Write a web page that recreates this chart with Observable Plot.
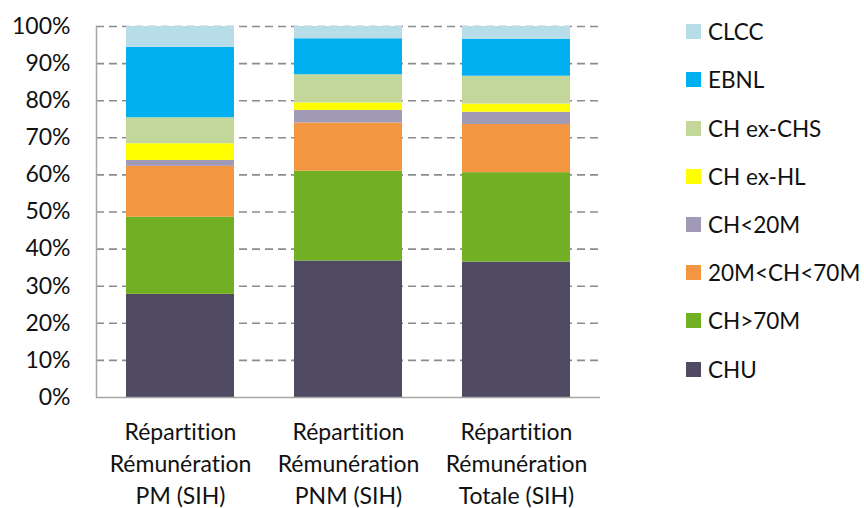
<!DOCTYPE html>
<html>
<head>
<meta charset="utf-8">
<script src="https://cdn.jsdelivr.net/npm/d3@7"></script>
<script src="https://cdn.jsdelivr.net/npm/@observablehq/plot@0.6"></script>
<style>
  html, body { margin: 0; padding: 0; background: #fff; }
  #wrap { position: relative; width: 864px; height: 508px; font-family: Lato, sans-serif; font-variant-ligatures: none; }
  #chart { position: absolute; left: 0; top: 0; }
  #chart svg text { font-variant-ligatures: none; }
  #legend { position: absolute; left: 686px; top: 0; }
  .item { position: absolute; left: 0; display: flex; align-items: center; white-space: nowrap; font-size: 22.5px; color: #111; height: 26px; }
  .sw { width: 15px; height: 15px; margin-right: 7px; flex: none; }
</style>
</head>
<body>
<div id="wrap"><div id="chart"></div><div id="legend"></div></div>
<script>
const categories = ["Répartition\nRémunération\nPM (SIH)", "Répartition\nRémunération\nPNM (SIH)", "Répartition\nRémunération\nTotale (SIH)"];
const series = ["CHU", "CH>70M", "20M<CH<70M", "CH<20M", "CH ex-HL", "CH ex-CHS", "EBNL", "CLCC"];
const colors = ["#504a63", "#71b022", "#f29642", "#a09ab6", "#ffff00", "#c4d79b", "#00b0f0", "#b7dde8"];
const CHU = [27.8, 36.8, 36.5];
const CH70 = [20.8, 24.2, 24.1];
const CH20_70 = [13.7, 13.0, 13.0];
const CH20 = [1.6, 3.4, 3.3];
const exHL = [4.5, 2.0, 2.2];
const exCHS = [7.0, 7.6, 7.5];
const EBNL = [19.0, 9.7, 10.0];
const CLCC = [5.6, 3.3, 3.4];
const yTicks = [0, 10, 20, 30, 40, 50, 60, 70, 80, 90, 100];

const valuesBySeries = [CHU, CH70, CH20_70, CH20, exHL, exCHS, EBNL, CLCC];
const data = [];
series.forEach((s, i) => categories.forEach((c, j) => data.push({series: s, cat: c, value: valuesBySeries[i][j]})));

const W = 620, H = 508;
const plot = Plot.plot({
  width: W, height: H,
  marginLeft: 96, marginRight: W - 600, marginTop: 26, marginBottom: H - 397,
  style: {fontFamily: "Lato, sans-serif", fontSize: "23px", color: "#111", background: "#fff"},
  x: {domain: categories, paddingInner: 0.357, paddingOuter: 0.1785, label: null},
  y: {domain: [0, 100], label: null},
  color: {domain: series, range: colors},
  marks: [
    Plot.gridY(yTicks.filter(d => d > 0), {stroke: "#8c8c8c", strokeOpacity: 1, strokeWidth: 1.6, strokeDasharray: "8,5"}),
    Plot.barY(data, {x: "cat", y: "value", fill: "series", order: series}),
    Plot.ruleY([0], {stroke: "#a6a6a6", strokeWidth: 1.5}),
    Plot.axisY({ticks: yTicks, tickSize: 0, tickPadding: 26, tickFormat: d => d + "%", label: null, fontSize: 23}),
    Plot.axisX({tickSize: 0, tickPadding: 19, label: null, lineHeight: 1.41, fontSize: 23}),
    Plot.frame({anchor: "left", stroke: "#a6a6a6", strokeWidth: 1.5})
  ]
});
document.getElementById("chart").appendChild(plot);

const legend = document.getElementById("legend");
const order = series.slice().reverse();
order.forEach((s, i) => {
  const d = document.createElement("div");
  d.className = "item";
  d.style.top = (31.7 + i * 48.2 - 13) + "px";
  const sw = document.createElement("span");
  sw.className = "sw";
  sw.style.background = colors[series.indexOf(s)];
  const t = document.createElement("span");
  t.textContent = s;
  d.appendChild(sw); d.appendChild(t);
  legend.appendChild(d);
});
</script>
</body>
</html>
